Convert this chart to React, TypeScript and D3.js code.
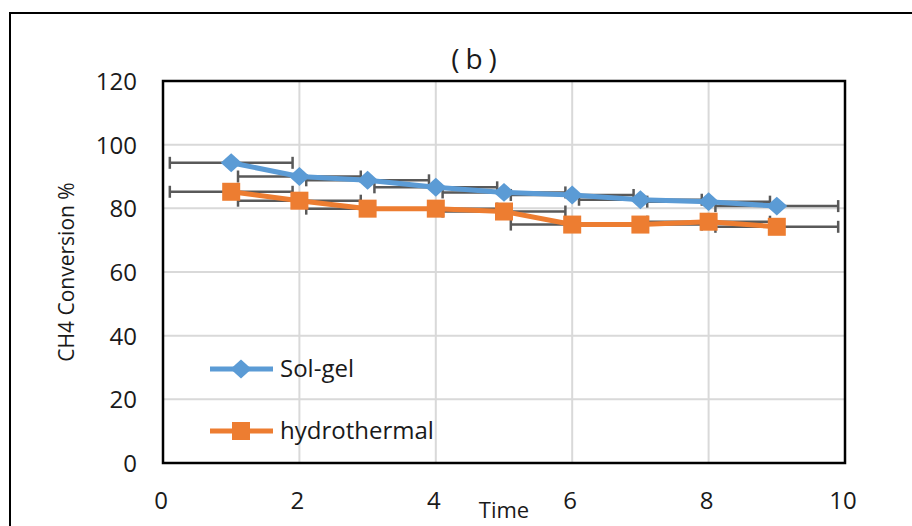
import React from "react";
import * as d3 from "d3";

const times = [1, 2, 3, 4, 5, 6, 7, 8, 9];
const solGel = [94.3, 90, 88.8, 86.6, 85, 84.2, 82.7, 82.1, 80.7];
const hydrothermal = [85.2, 82.4, 79.9, 79.9, 79, 74.9, 74.9, 75.8, 74.2];
const xErr = 0.9;
const xTicks = [0, 2, 4, 6, 8, 10];
const yTicks = [0, 20, 40, 60, 80, 100, 120];
const seriesNames = ["Sol-gel", "hydrothermal"];

const W = 912;
const H = 526;
const plot = { left: 163, right: 845, top: 81, bottom: 463 };
const FONT = "'Open Sans', sans-serif";
const BLUE = "#5B9BD5";
const ORANGE = "#ED7D31";
const ERR = "#595959";

export default function App() {
  const x = d3.scaleLinear().domain([0, 10]).range([plot.left, plot.right]);
  const y = d3.scaleLinear().domain([0, 120]).range([plot.bottom, plot.top]);
  const line = d3
    .line<[number, number]>()
    .x((d) => x(d[0]))
    .y((d) => y(d[1]));

  const series = [
    { name: seriesNames[0], values: solGel, color: BLUE, marker: "diamond" },
    { name: seriesNames[1], values: hydrothermal, color: ORANGE, marker: "square" },
  ];

  const marker = (kind: string, cx: number, cy: number, color: string, key: any) => {
    if (kind === "diamond") {
      const r = 10.5;
      return (
        <path
          key={key}
          d={`M${cx},${cy - r * 0.9}L${cx + r},${cy}L${cx},${cy + r * 0.9}L${cx - r},${cy}Z`}
          fill={color}
        />
      );
    }
    const s = 18;
    return <rect key={key} x={cx - s / 2} y={cy - s / 2} width={s} height={s} fill={color} />;
  };

  return (
    <svg
      width={W}
      height={H}
      style={{ position: "absolute", left: 0, top: 0, background: "#fff" }}
      fontFamily={FONT}
    >
      <rect x={0} y={0} width={W} height={H} fill="#fff" />
      {/* outer chart border */}
      <rect x={10} y={13} width={1000} height={700} fill="none" stroke="#000" strokeWidth={2} />

      {/* gridlines */}
      {yTicks.filter((t) => t > 0 && t < 120).map((t) => (
        <line key={"gy" + t} x1={plot.left} x2={plot.right} y1={y(t)} y2={y(t)} stroke="#d9d9d9" strokeWidth={2} />
      ))}
      {xTicks.filter((t) => t > 0 && t < 10).map((t) => (
        <line key={"gx" + t} x1={x(t)} x2={x(t)} y1={plot.top} y2={plot.bottom} stroke="#d9d9d9" strokeWidth={2} />
      ))}

      {/* error bars */}
      {series.map((s) =>
        s.values.map((v, i) => {
          const x0 = x(times[i] - xErr);
          const x1 = x(times[i] + xErr);
          const yy = y(v);
          return (
            <g key={s.name + "e" + i} stroke={ERR} strokeWidth={2.5}>
              <line x1={x0} x2={x1} y1={yy} y2={yy} />
              <line x1={x0} x2={x0} y1={yy - 6} y2={yy + 6} />
              <line x1={x1} x2={x1} y1={yy - 6} y2={yy + 6} />
            </g>
          );
        })
      )}

      {/* lines and markers */}
      {series.map((s) => (
        <g key={s.name}>
          <path
            d={line(s.values.map((v, i) => [times[i], v] as [number, number])) || ""}
            fill="none"
            stroke={s.color}
            strokeWidth={5}
            strokeLinejoin="round"
          />
          {s.values.map((v, i) => marker(s.marker, x(times[i]), y(v), s.color, i))}
        </g>
      ))}

      {/* plot border */}
      <rect
        x={plot.left}
        y={plot.top}
        width={plot.right - plot.left}
        height={plot.bottom - plot.top}
        fill="none"
        stroke="#000"
        strokeWidth={2.5}
      />

      {/* y tick labels */}
      {yTicks.map((t) => (
        <text key={"yt" + t} x={137} y={y(t) + 9} textAnchor="end" fontSize={24} fill="#1a1a1a">
          {t}
        </text>
      ))}
      {/* x tick labels */}
      {xTicks.map((t) => (
        <text key={"xt" + t} x={x(t) - 2} y={509} textAnchor="middle" fontSize={24} fill="#1a1a1a">
          {t}
        </text>
      ))}

      {/* axis titles */}
      <text x={504} y={518} textAnchor="middle" fontSize={22} fill="#1a1a1a">
        Time
      </text>
      <text
        transform={`translate(74,272) rotate(-90)`}
        textAnchor="middle"
        fontSize={21}
        fill="#1a1a1a"
      >
        CH4 Conversion %
      </text>

      {/* chart title */}
      <text x={477} y={69} textAnchor="middle" fontSize={28} fill="#1a1a1a" letterSpacing={6}>
        (b)
      </text>

      {/* legend */}
      {series.map((s, i) => {
        const ly = 369 + i * 62;
        return (
          <g key={"lg" + s.name}>
            <line x1={210} x2={273} y1={ly} y2={ly} stroke={s.color} strokeWidth={5} />
            {marker(s.marker, 241, ly, s.color, "m")}
            <text x={280} y={ly + 8} fontSize={24} fill="#1a1a1a">
              {s.name}
            </text>
          </g>
        );
      })}
    </svg>
  );
}
